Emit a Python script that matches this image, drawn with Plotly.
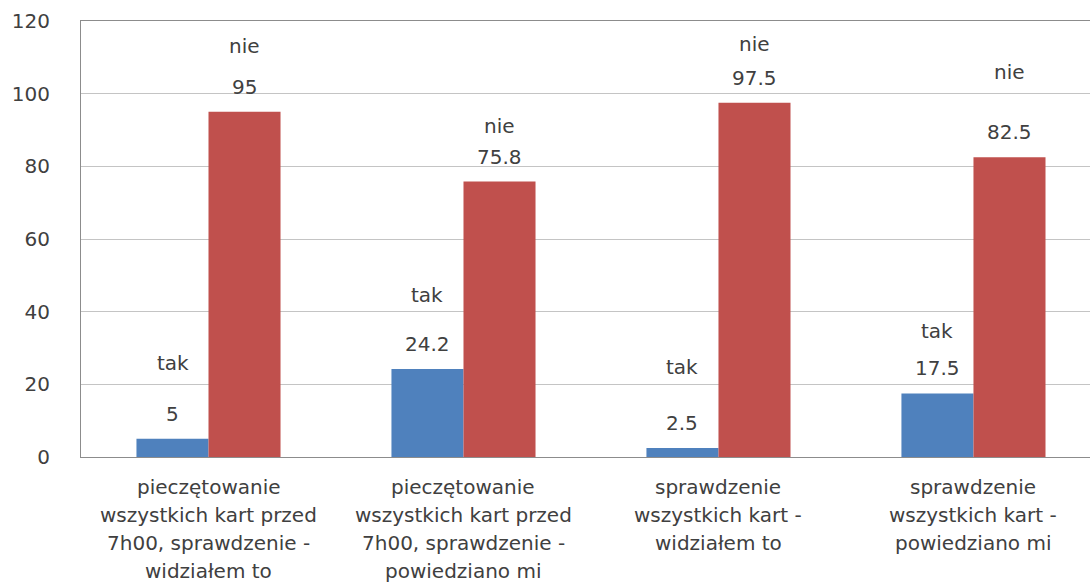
import plotly.graph_objects as go

categories = [
    "pieczętowanie<br>wszystkich kart przed<br>7h00, sprawdzenie -<br>widziałem to",
    "pieczętowanie<br>wszystkich kart przed<br>7h00, sprawdzenie -<br>powiedziano mi",
    "sprawdzenie<br>wszystkich kart -<br>widziałem to",
    "sprawdzenie<br>wszystkich kart -<br>powiedziano mi",
]
tak = [5, 24.2, 2.5, 17.5]
nie = [95, 75.8, 97.5, 82.5]
value_labels_tak = ["5", "24.2", "2.5", "17.5"]
value_labels_nie = ["95", "75.8", "97.5", "82.5"]

# where the series names sit above each bar (px, label centre above bar top)
tak_name_lift = [76, 74, 81, 62]
nie_name_lift = [66, 56, 59, 85]

FONT = "DejaVu Sans"
TEXT = "#404040"
BLUE = "#4F81BD"
RED = "#C0504D"
SIZE = 20

x = list(range(len(categories)))

fig = go.Figure()
fig.add_trace(go.Bar(x=x, y=tak, name="tak", marker_color=BLUE, marker_line_width=0))
fig.add_trace(go.Bar(x=x, y=nie, name="nie", marker_color=RED, marker_line_width=0))

annotations = []
half = 36  # half a bar, px
for series, labels, lifts, name, dx in [
    (tak, value_labels_tak, tak_name_lift, "tak", -half),
    (nie, value_labels_nie, nie_name_lift, "nie", half),
]:
    for i, v in enumerate(series):
        annotations.append(dict(
            x=x[i], y=v, xref="x", yref="y", text=labels[i], showarrow=False,
            xshift=dx, yshift=25, yanchor="middle",
            font=dict(family=FONT, size=SIZE, color=TEXT),
        ))
        annotations.append(dict(
            x=x[i], y=v, xref="x", yref="y", text=name, showarrow=False,
            xshift=dx, yshift=lifts[i], yanchor="middle",
            font=dict(family=FONT, size=SIZE, color=TEXT),
        ))

for i, cat in enumerate(categories):
    for j, line in enumerate(cat.split("<br>")):
        annotations.append(dict(
            x=x[i], y=0, xref="x", yref="paper", text=line, showarrow=False,
            yanchor="middle", yshift=-30 - 28 * j,
            font=dict(family=FONT, size=SIZE, color=TEXT),
        ))

fig.update_layout(
    width=1090,
    height=588,
    margin=dict(l=81, r=0, t=21, b=131),
    plot_bgcolor="white",
    paper_bgcolor="white",
    barmode="group",
    bargap=0.435,
    bargroupgap=0,
    showlegend=False,
    annotations=annotations,
    font=dict(family=FONT, size=SIZE, color=TEXT),
)

fig.update_xaxes(
    range=[-0.5, 3.457],
    showticklabels=False,
    showgrid=False,
    showline=True,
    mirror=True,
    linecolor="#8c8c8c",
    linewidth=1,
    zeroline=False,
    automargin=False,
)
fig.update_yaxes(
    range=[0, 120],
    dtick=20,
    showgrid=True,
    gridcolor="#c4c4c4",
    showline=True,
    linecolor="#8c8c8c",
    zeroline=False,
    ticks="",
    ticklabelstandoff=26,
    automargin=False,
    tickfont=dict(family=FONT, size=SIZE, color=TEXT),
)

fig.write_html(
    "out.html",
    config={"displayModeBar": False},
    post_script="document.body.style.margin='0';document.body.style.overflow='hidden';",
)
